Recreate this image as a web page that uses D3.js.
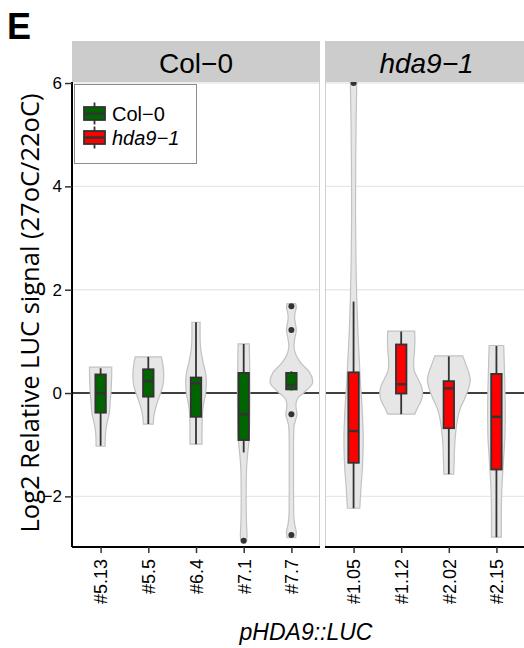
<!DOCTYPE html>
<html>
<head>
<meta charset="utf-8">
<script src="https://cdn.jsdelivr.net/npm/d3@7"></script>
<style>
  html, body { margin: 0; padding: 0; background: #fff; }
  svg { display: block; }
  text { font-family: "Liberation Sans", Arial, sans-serif; }
</style>
</head>
<body>
<svg id="chart" width="524" height="648"></svg>
<script>
// ---- data -------------------------------------------------------------
const genotypes = ["Col\u22120", "hda9\u22121"];
const genotypeFill = ["#006400", "#ff0000"];
const linesCol = ["#5.13", "#5.5", "#6.4", "#7.1", "#7.7"];
const linesHda = ["#1.05", "#1.12", "#2.02", "#2.15"];

// box statistics, in order linesCol then linesHda
const whiskerLow  = [-1.02, -0.60, -0.99, -1.15, 0.05, -2.23, -0.41, -1.57, -2.79];
const quartile1   = [-0.38, -0.07, -0.46, -0.91, 0.07, -1.35, -0.01, -0.68, -1.48];
const medians     = [ 0.00,  0.23,  0.19, -0.41, 0.155, -0.735, 0.17, 0.09, -0.46];
const quartile3   = [ 0.36,  0.46,  0.30,  0.39, 0.39,  0.40,  0.94,  0.23,  0.37];
const whiskerHigh = [ 0.48,  0.70,  1.37,  0.95, 0.42,  1.77,  1.19,  0.71,  0.91];
const outliers = [[], [], [], [-2.86], [1.68, 1.22, -0.41, -2.75], [6.0], [], [], []];

// violin outlines: [value, relative density]
const violins = [
  [[0.50,0.52],[0.25,0.51],[0.0,0.48],[-0.2,0.44],[-0.38,0.41],[-0.55,0.32],[-0.7,0.25],[-0.85,0.22],[-1.03,0.21]],
  [[0.70,0.61],[0.55,0.68],[0.35,0.72],[0.15,0.68],[-0.05,0.53],[-0.25,0.37],[-0.45,0.26],[-0.60,0.23]],
  [[1.37,0.19],[1.1,0.19],[0.85,0.22],[0.6,0.33],[0.4,0.44],[0.2,0.48],[0.0,0.45],[-0.2,0.36],[-0.4,0.3],[-0.7,0.28],[-0.99,0.28]],
  [[0.95,0.26],[0.5,0.28],[0.0,0.29],[-0.5,0.28],[-0.9,0.25],[-1.2,0.18],[-1.5,0.13],[-2.0,0.115],[-2.5,0.13],[-2.75,0.155],[-2.86,0.14]],
  [[1.73,0.2],[1.66,0.23],[1.55,0.17],[1.45,0.15],[1.32,0.2],[1.22,0.23],[1.08,0.17],[0.92,0.12],[0.75,0.2],[0.58,0.45],[0.4,0.85],[0.22,1.0],[0.05,0.7],[-0.1,0.3],[-0.22,0.21],[-0.32,0.23],[-0.41,0.26],[-0.52,0.2],[-0.65,0.12],[-1.0,0.1],[-1.8,0.1],[-2.35,0.11],[-2.55,0.16],[-2.7,0.23],[-2.80,0.2]],
  [[6.0,0.15],[5.3,0.12],[4.5,0.1],[3.5,0.09],[2.6,0.11],[1.8,0.15],[1.2,0.2],[0.7,0.26],[0.2,0.32],[-0.3,0.4],[-0.9,0.45],[-1.4,0.42],[-1.8,0.35],[-2.23,0.29]],
  [[1.20,0.63],[1.0,0.64],[0.8,0.62],[0.6,0.58],[0.45,0.6],[0.3,0.75],[0.15,0.93],[0.0,1.0],[-0.15,0.93],[-0.3,0.75],[-0.41,0.63]],
  [[0.72,0.65],[0.55,0.8],[0.4,0.93],[0.25,1.0],[0.1,0.93],[-0.1,0.75],[-0.33,0.51],[-0.6,0.37],[-0.97,0.28],[-1.3,0.25],[-1.57,0.23]],
  [[0.92,0.34],[0.5,0.37],[0.0,0.4],[-0.33,0.41],[-0.8,0.4],[-1.3,0.33],[-1.9,0.25],[-2.4,0.23],[-2.79,0.23]]
];
const yTicks = [-2, 0, 2, 4, 6];
const gridValues = [-2, 2, 4, 6];

// ---- layout -----------------------------------------------------------
const svg = d3.select("#chart");
const plotTop = 82, plotBottom = 547;
const y = d3.scaleLinear().domain([-2.98, 6.02]).range([plotBottom, plotTop]);

const panels = [
  { name: genotypes[0], italic: false, lines: linesCol, offset: 0, x0: 72, x1: 320, g: 0 },
  { name: genotypes[1], italic: true,  lines: linesHda, offset: 5, x0: 325, x1: 525, g: 1 }
];

// panel letter
svg.append("text").attr("x", 7).attr("y", 39)
  .attr("font-size", 36).attr("font-weight", "bold").text("E");

panels.forEach((p, pi) => {
  const x = d3.scalePoint().domain(p.lines).range([p.x0, p.x1]).padding(0.6);
  const step = x.step();
  const g = svg.append("g");

  // strip
  g.append("rect").attr("x", p.x0).attr("y", 41).attr("width", p.x1 - p.x0).attr("height", plotTop - 41)
    .attr("fill", "#cccccc");
  g.append("text").attr("x", (p.x0 + Math.min(p.x1, 524)) / 2 + (pi ? 2 : 0)).attr("y", 73)
    .attr("text-anchor", "middle").attr("font-size", 28)
    .attr("font-style", p.italic ? "italic" : "normal").text(p.name);

  // grid
  g.selectAll(".grid").data(gridValues).enter().append("line")
    .attr("x1", p.x0).attr("x2", p.x1).attr("y1", d => y(d)).attr("y2", d => y(d))
    .attr("stroke", "#e8e8e8").attr("stroke-width", 1.4);

  // reference line at 0
  g.append("line").attr("x1", p.x0).attr("x2", p.x1).attr("y1", y(0)).attr("y2", y(0))
    .attr("stroke", "#000").attr("stroke-width", 1.6);

  // panel border (sides)
  g.append("line").attr("x1", p.x0 + 0.5).attr("x2", p.x0 + 0.5).attr("y1", plotTop).attr("y2", plotBottom)
    .attr("stroke", "#cfcfcf").attr("stroke-width", 1);
  g.append("line").attr("x1", p.x1 - 0.5).attr("x2", p.x1 - 0.5).attr("y1", plotTop).attr("y2", plotBottom)
    .attr("stroke", "#cfcfcf").attr("stroke-width", 1);

  const clipId = "clip" + pi;
  svg.append("clipPath").attr("id", clipId).append("rect")
    .attr("x", p.x0).attr("y", plotTop).attr("width", p.x1 - p.x0).attr("height", plotBottom - plotTop);
  const plot = g.append("g").attr("clip-path", `url(#${clipId})`);

  p.lines.forEach((name, i) => {
    const k = p.offset + i;
    const cx = x(name);
    const half = 0.45 * step;
    const area = d3.area()
      .y(d => y(d[0]))
      .x0(d => cx - d[1] * half)
      .x1(d => cx + d[1] * half)
      .curve(d3.curveMonotoneY);
    plot.append("path").attr("d", area(violins[k]))
      .attr("fill", "#e6e6e6").attr("stroke", "#c2c2c2").attr("stroke-width", 1.2);

    const bw = 0.22 * step;
    // whiskers
    plot.append("line").attr("x1", cx).attr("x2", cx).attr("y1", y(whiskerHigh[k])).attr("y2", y(quartile3[k]))
      .attr("stroke", "#333").attr("stroke-width", 1.8);
    plot.append("line").attr("x1", cx).attr("x2", cx).attr("y1", y(quartile1[k])).attr("y2", y(whiskerLow[k]))
      .attr("stroke", "#333").attr("stroke-width", 1.8);
    // box
    plot.append("rect").attr("x", cx - bw / 2).attr("width", bw)
      .attr("y", y(quartile3[k])).attr("height", y(quartile1[k]) - y(quartile3[k]))
      .attr("fill", genotypeFill[p.g]).attr("stroke", "#333").attr("stroke-width", 1.8);
    plot.append("line").attr("x1", cx - bw / 2).attr("x2", cx + bw / 2)
      .attr("y1", y(medians[k])).attr("y2", y(medians[k]))
      .attr("stroke", "#333").attr("stroke-width", 2.4);
    // outliers
    plot.selectAll(null).data(outliers[k]).enter().append("circle")
      .attr("cx", cx).attr("cy", d => y(d)).attr("r", 3).attr("fill", "#333");
  });

  // bottom axis
  const ax = g.append("g").attr("transform", `translate(0,${plotBottom})`)
    .call(d3.axisBottom(x).tickSize(6).tickSizeOuter(0));
  ax.select(".domain").attr("stroke", "#000").attr("stroke-width", 2)
    .attr("d", `M${p.x0},0H${p.x1}`);
  ax.selectAll(".tick line").attr("stroke", "#333").attr("stroke-width", 1.5);
  ax.selectAll(".tick text")
    .attr("font-family", "Liberation Sans, Arial, sans-serif").attr("font-size", 18).attr("fill", "#000")
    .attr("transform", "rotate(-90)").attr("text-anchor", "end")
    .attr("x", -12).attr("y", 0).attr("dy", "0.35em");

  if (pi === 0) {
    const ay = g.append("g").attr("transform", `translate(${p.x0},0)`)
      .call(d3.axisLeft(y).tickValues(yTicks).tickFormat(d3.format("d")).tickSize(7).tickSizeOuter(0));
    ay.select(".domain").attr("stroke", "#000").attr("stroke-width", 2)
      .attr("d", `M0,${plotTop}V${plotBottom}`);
    ay.selectAll(".tick line").attr("stroke", "#333").attr("stroke-width", 1.5);
    ay.selectAll(".tick text").attr("font-family", "Liberation Sans, Arial, sans-serif")
      .attr("font-size", 17).attr("fill", "#000").attr("x", -10)
      .text(d => d < 0 ? "\u2212" + Math.abs(d) : d);
  }
});

// axis titles
svg.append("text").attr("transform", "translate(39,313) rotate(-90)")
  .attr("text-anchor", "middle").attr("font-size", 25.5)
  .style("font-family", "'Open Sans', sans-serif")
  .text("Log2 Relative LUC signal (27oC/22oC)");
svg.append("text").attr("x", 306).attr("y", 640).attr("text-anchor", "middle")
  .attr("font-size", 23).attr("font-style", "italic").text("pHDA9::LUC");

// legend
const lg = svg.append("g");
lg.append("rect").attr("x", 74.5).attr("y", 84.5).attr("width", 122).attr("height", 79)
  .attr("fill", "#fff").attr("stroke", "#8c8c8c").attr("stroke-width", 1);
genotypes.forEach((name, i) => {
  const cy = 113.5 + i * 24;
  const kx = 84, kw = 21;
  lg.append("line").attr("x1", kx + kw / 2).attr("x2", kx + kw / 2).attr("y1", cy - 11).attr("y2", cy + 11)
    .attr("stroke", "#333").attr("stroke-width", 1.8);
  lg.append("rect").attr("x", kx).attr("y", cy - 6.5).attr("width", kw).attr("height", 13)
    .attr("fill", genotypeFill[i]).attr("stroke", "#333").attr("stroke-width", 1.8);
  lg.append("line").attr("x1", kx).attr("x2", kx + kw).attr("y1", cy).attr("y2", cy)
    .attr("stroke", "#333").attr("stroke-width", 2.4);
  lg.append("text").attr("x", 112).attr("y", cy + 7.5).attr("font-size", 20)
    .attr("font-style", i ? "italic" : "normal").text(name);
});
</script>
</body>
</html>
